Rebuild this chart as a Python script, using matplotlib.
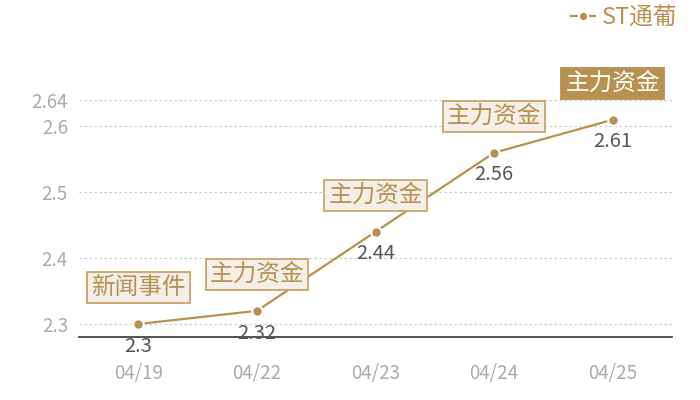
import matplotlib
matplotlib.use('Agg')
import matplotlib.pyplot as plt

plt.rcParams['font.family'] = ['Noto Sans CJK SC', 'DejaVu Sans']

dates = ['04/19', '04/22', '04/23', '04/24', '04/25']
prices = [2.3, 2.32, 2.44, 2.56, 2.61]
events = ['新闻事件', '主力资金', '主力资金', '主力资金', '主力资金']
y_ticks = [2.3, 2.4, 2.5, 2.6, 2.64]
series_name = 'ST通葡'

GOLD = '#b8904f'

fig = plt.figure(figsize=(7, 4), dpi=100)
ax = fig.add_axes([79 / 700, 63 / 400, 593 / 700, 237 / 400])

xs = list(range(len(dates)))
ax.plot(xs, prices, color=GOLD, lw=1.6, marker='o', ms=7.5,
        mfc=GOLD, mec='white', mew=1.5, label=series_name, zorder=3)

ax.set_xlim(-0.5, len(dates) - 0.5)
ax.set_ylim(2.2803, 2.64)
ax.set_xticks(xs, dates)
ax.set_yticks(y_ticks, [f'{v:g}' for v in y_ticks])
ax.tick_params(length=0, labelsize=13.5, labelcolor='#aaaaaa')
ax.tick_params(axis='x', pad=19)
ax.tick_params(axis='y', pad=8)
for lab in ax.get_xticklabels() + ax.get_yticklabels():
    lab.set_fontweight('light')

for s in ['top', 'right', 'left']:
    ax.spines[s].set_visible(False)
ax.spines['bottom'].set_color('#333333')
ax.spines['bottom'].set_linewidth(1.2)

for v in y_ticks:
    ax.axhline(v, color='#cccccc', lw=0.9, ls=(0, (2, 2)), zorder=1)

for i, (p, ev) in enumerate(zip(prices, events)):
    ax.annotate(f'{p:g}', (i, p), xytext=(0, -16), textcoords='offset points',
                ha='center', va='center', fontsize=14.5, color='#555555',
                fontweight='light', zorder=4)
    last = i == len(prices) - 1
    ax.annotate(ev, (i, p), xytext=(0, 26), textcoords='offset points',
                ha='center', va='center', fontsize=17,
                color='white' if last else GOLD, fontweight='light',
                bbox=dict(boxstyle='square,pad=0.17',
                          fc=GOLD if last else '#f3efe8',
                          ec=GOLD if last else '#c9a46a', lw=1.3),
                annotation_clip=False, zorder=5)

leg = ax.legend(loc='upper right', bbox_to_anchor=(677 / 700, 394 / 400),
                bbox_transform=fig.transFigure, frameon=False,
                fontsize=17, handlelength=1.0, handletextpad=0.3,
                borderaxespad=0, borderpad=0, markerscale=0.9)
for t in leg.get_texts():
    t.set_color(GOLD)

fig.savefig('out.png', dpi=100)
